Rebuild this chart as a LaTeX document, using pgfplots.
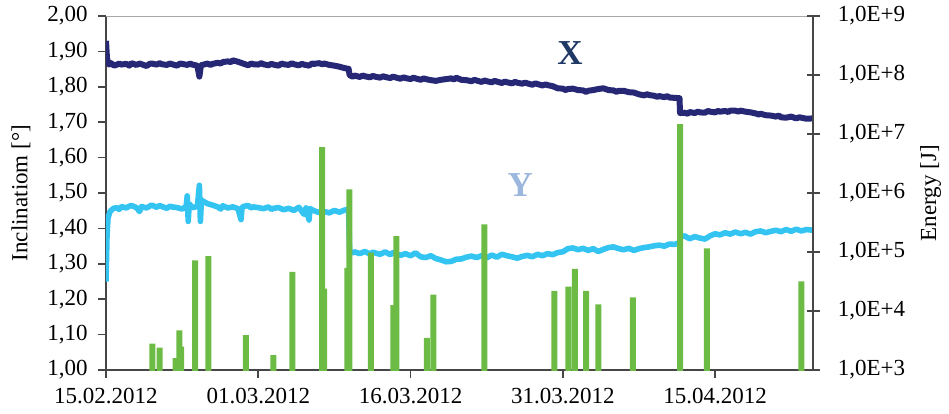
\documentclass[border=0pt]{standalone}
\usepackage{fontspec}
\setmainfont{Liberation Serif}
\usepackage{pgfplots}
\pgfplotsset{compat=1.18}

\definecolor{xnavy}{RGB}{38,40,118}
\definecolor{ylight}{RGB}{52,196,242}
\definecolor{egreen}{RGB}{108,187,69}
\definecolor{xlab}{RGB}{31,56,100}
\definecolor{ylab}{RGB}{155,183,221}
\definecolor{axgray}{RGB}{70,70,70}

% days counted from 15.02.2012
\pgfplotstableread{
d v
0 1.930
0.1 1.880
0.3 1.863
0.5 1.867
0.8 1.860
1.0 1.862
1.3 1.866
1.5 1.863
2.0 1.865
2.3 1.860
2.5 1.867
3.0 1.862
3.3 1.866
3.5 1.864
4.0 1.859
4.3 1.865
4.5 1.866
5.0 1.863
5.3 1.867
5.5 1.864
6.0 1.862
6.3 1.866
6.5 1.864
7.0 1.860
7.3 1.866
7.5 1.865
8.0 1.862
8.3 1.866
8.5 1.863
9.0 1.860
9.2 1.829
9.35 1.861
9.5 1.862
10.0 1.866
10.3 1.862
10.5 1.865
11.0 1.868
11.3 1.866
11.5 1.870
12.0 1.872
12.3 1.870
12.5 1.875
13.0 1.871
13.3 1.868
13.5 1.866
14.0 1.861
14.3 1.866
14.5 1.864
15.0 1.863
15.3 1.867
15.5 1.864
16.0 1.861
16.3 1.865
16.5 1.863
17.0 1.860
17.3 1.866
17.5 1.864
18.0 1.862
18.3 1.867
18.5 1.864
19.0 1.861
19.3 1.865
19.5 1.863
20.0 1.860
20.3 1.866
20.5 1.865
21.0 1.867
21.3 1.864
21.5 1.866
22.0 1.862
22.5 1.860
23.0 1.857
23.5 1.853
23.9 1.851
24.0 1.833
24.3 1.829
24.5 1.832
25.0 1.828
25.3 1.832
25.5 1.830
26.0 1.827
26.3 1.831
26.5 1.829
27.0 1.826
27.3 1.830
27.5 1.828
28.0 1.825
28.3 1.829
28.5 1.827
29.0 1.823
29.3 1.827
29.5 1.825
30.0 1.822
30.3 1.826
30.5 1.824
31.0 1.820
31.3 1.824
31.5 1.822
32.0 1.819
32.5 1.817
33.0 1.820
33.5 1.822
34.0 1.824
34.3 1.821
34.5 1.826
35.0 1.820
35.5 1.819
36.0 1.816
36.3 1.820
36.5 1.818
37.0 1.814
37.3 1.818
37.5 1.816
38.0 1.813
38.3 1.817
38.5 1.815
39.0 1.811
39.3 1.815
39.5 1.813
40.0 1.810
40.3 1.814
40.5 1.812
41.0 1.809
41.3 1.812
41.5 1.810
42.0 1.806
42.3 1.810
42.5 1.808
43.0 1.804
43.3 1.807
43.5 1.805
44.0 1.802
44.5 1.796
45.0 1.795
45.3 1.791
45.5 1.794
46.0 1.795
46.5 1.791
47.0 1.790
47.3 1.786
47.5 1.789
48.0 1.791
48.5 1.794
49.0 1.796
49.5 1.791
50.0 1.790
50.3 1.786
50.5 1.789
51.0 1.789
51.5 1.785
52.0 1.784
52.5 1.779
53.0 1.776
53.3 1.779
53.5 1.777
54.0 1.775
54.3 1.772
54.5 1.774
55.0 1.771
55.3 1.774
55.5 1.770
56.0 1.769
56.5 1.768
56.55 1.726
57.0 1.727
57.3 1.724
57.5 1.729
58.0 1.726
58.3 1.730
58.5 1.728
59.0 1.727
59.3 1.732
59.5 1.730
60.0 1.728
60.3 1.732
60.5 1.730
61.0 1.732
61.3 1.729
61.5 1.733
62.0 1.733
62.3 1.730
62.5 1.733
63.0 1.730
63.5 1.728
64.0 1.725
64.3 1.722
64.5 1.724
65.0 1.720
65.5 1.719
66.0 1.716
66.3 1.719
66.5 1.714
67.0 1.713
67.5 1.716
68.0 1.711
68.3 1.714
68.5 1.713
69.0 1.710
69.65 1.711
}\xdata

\pgfplotstableread{
d v
0 1.250
0.1 1.380
0.2 1.430
0.4 1.448
0.7 1.456
1.0 1.459
1.3 1.454
1.5 1.462
2.0 1.458
2.3 1.463
2.5 1.465
3.0 1.459
3.3 1.448
3.5 1.462
4.0 1.458
4.3 1.463
4.5 1.466
5.0 1.460
5.3 1.465
5.5 1.462
6.0 1.457
6.3 1.463
6.5 1.461
7.0 1.459
7.5 1.455
7.9 1.463
8.0 1.492
8.1 1.420
8.2 1.470
8.5 1.459
9.0 1.462
9.2 1.522
9.3 1.420
9.4 1.480
9.7 1.475
10.0 1.470
10.5 1.466
11.0 1.461
11.3 1.455
11.5 1.464
12.0 1.458
12.5 1.461
13.0 1.456
13.3 1.425
13.4 1.458
13.5 1.462
14.0 1.465
14.3 1.458
14.5 1.461
15.0 1.459
15.5 1.456
16.0 1.461
16.3 1.454
16.5 1.457
17.0 1.459
17.5 1.453
18.0 1.457
18.5 1.451
19.0 1.460
19.5 1.440
19.7 1.458
20.0 1.424
20.1 1.456
20.5 1.450
21.0 1.445
21.3 1.450
21.5 1.448
22.0 1.444
22.5 1.451
23.0 1.446
23.5 1.452
23.9 1.455
24.0 1.336
24.3 1.331
24.5 1.334
25.0 1.329
25.5 1.335
26.0 1.328
26.3 1.333
26.5 1.331
27.0 1.327
27.5 1.334
28.0 1.326
28.3 1.332
28.5 1.330
29.0 1.324
29.5 1.329
30.0 1.323
30.5 1.331
31.0 1.320
31.5 1.318
32.0 1.323
32.5 1.315
33.0 1.311
33.5 1.306
34.0 1.307
34.5 1.313
35.0 1.314
35.5 1.319
36.0 1.322
36.5 1.318
37.0 1.323
37.5 1.317
38.0 1.325
38.5 1.319
39.0 1.327
39.5 1.323
40.0 1.320
40.5 1.316
41.0 1.321
41.5 1.324
42.0 1.320
42.5 1.327
43.0 1.323
43.5 1.329
44.0 1.326
44.5 1.332
45.0 1.334
45.5 1.343
46.0 1.345
46.5 1.340
47.0 1.344
47.5 1.338
48.0 1.343
48.5 1.335
49.0 1.341
49.5 1.346
50.0 1.348
50.5 1.343
51.0 1.340
51.5 1.344
52.0 1.338
52.5 1.343
53.0 1.346
53.5 1.348
54.0 1.351
54.5 1.353
55.0 1.350
55.5 1.356
56.0 1.355
56.5 1.359
56.55 1.376
57.0 1.379
57.5 1.371
58.0 1.377
58.5 1.373
59.0 1.370
59.5 1.379
60.0 1.385
60.5 1.382
61.0 1.388
61.5 1.384
62.0 1.390
62.5 1.385
63.0 1.389
63.5 1.384
64.0 1.391
64.5 1.393
65.0 1.388
65.5 1.392
66.0 1.395
66.5 1.391
67.0 1.397
67.5 1.392
68.0 1.398
68.5 1.393
69.0 1.397
69.65 1.395
}\ydata

\pgfplotstableread{
d E
4.56 2800
5.29 2400
6.86 1600
7.22 4700
7.39 2500
8.77 72000
10.08 85000
13.79 3900
16.48 1800
18.36 46000
21.30 6000000
21.48 24000
23.78 54000
23.97 1150000
26.10 98000
28.30 12600
28.60 186000
31.60 3500
32.25 19000
37.27 295000
44.17 22000
45.55 26000
46.20 52000
47.30 22000
48.50 13000
51.90 17000
56.55 14800000
59.20 115000
68.50 32000
}\edata

\begin{document}
\begin{tikzpicture}[font=\fontsize{11.5}{13}\selectfont]
\begin{axis}[
    scale only axis,
    width=353.5pt, height=177pt,
    xmin=0, xmax=69.65,
    ymin=1, ymax=2,
    axis x line*=bottom,
    axis y line*=left,
    axis line style={draw=axgray, line width=0.9pt},
    tick style={draw=axgray, line width=0.8pt},
    tick align=outside,
    major tick length=4pt,
    xtick={0,15,30,45,60},
    xticklabels={15.02.2012,01.03.2012,16.03.2012,31.03.2012,15.04.2012},
    xticklabel style={yshift=-1.7pt},
    ytick={1,1.1,1.2,1.3,1.4,1.5,1.6,1.7,1.8,1.9,2},
    yticklabel style={xshift=-1.7pt, /pgf/number format/.cd, fixed, fixed zerofill,
        precision=2, use comma, assume math mode=true},
    ylabel={Inclinatiom [°]},
    ylabel style={at={(axis description cs:-0.1202,0.5)}, anchor=center, inner sep=1pt},
]
\coordinate (sw) at (rel axis cs:0,0);
\coordinate (ne) at (rel axis cs:1,1);
\draw[gray!70, line width=0.8pt] (rel axis cs:0,1) -- (rel axis cs:1,1);
\addplot[xnavy, line width=3pt, line join=round] table[x=d, y=v] {\xdata};
\addplot[ylight, line width=2.8pt, line join=round] table[x=d, y=v] {\ydata};
\node[font=\bfseries\fontsize{17.5}{18}\selectfont, text=xlab] at (axis cs:45.7,1.895) {X};
\node[font=\bfseries\fontsize{17.5}{18}\selectfont, text=ylab] at (axis cs:40.8,1.523) {Y};
\end{axis}
\begin{axis}[
    scale only axis,
    width=353.5pt, height=177pt,
    xmin=0, xmax=69.65,
    ymode=log, ymin=1e3, ymax=1e9,
    axis x line=none,
    axis y line*=right,
    axis line style={draw=axgray, line width=0.9pt},
    tick style={draw=axgray, line width=0.8pt},
    tick align=center,
    major tick length=6.5pt,
    yminorticks=false,
    ytick={1e3,1e4,1e5,1e6,1e7,1e8,1e9},
    yticklabels={{1,0E+3},{1,0E+4},{1,0E+5},{1,0E+6},{1,0E+7},{1,0E+8},{1,0E+9}},
    yticklabel style={xshift=5.6pt},
    ylabel={Energy [J]},
    ylabel style={at={(axis description cs:1.1662,0.5)}, anchor=center, inner sep=1pt},
]
\addplot[ybar, bar width=3pt, fill=egreen, draw=none] table[x=d, y=E] {\edata};
\end{axis}
\path (sw) ++(-53pt,-21.5pt) (ne) ++(68pt,8pt);
\end{tikzpicture}
\end{document}
